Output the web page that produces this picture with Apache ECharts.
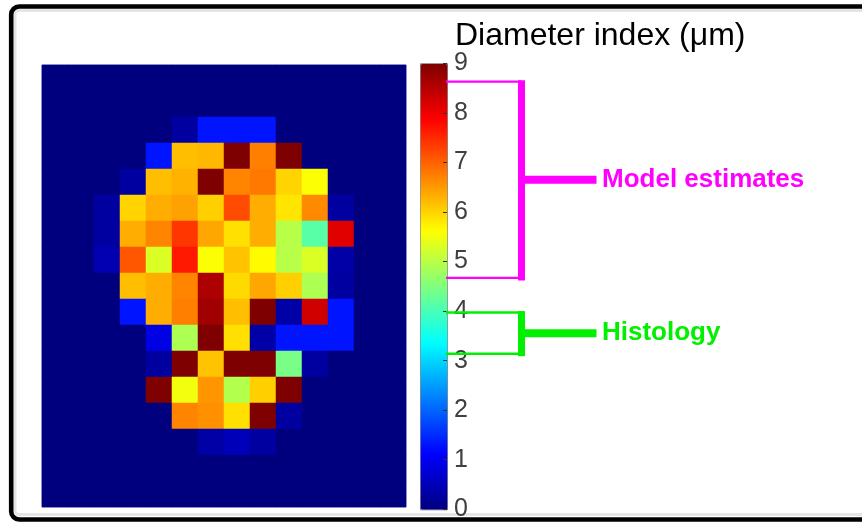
<!DOCTYPE html>
<html>
<head>
<meta charset="utf-8">
<script src="https://cdn.jsdelivr.net/npm/echarts@6/dist/echarts.min.js"></script>
<style>
html,body{margin:0;padding:0;background:#fff;}
#chart{width:862px;height:522px;}
</style>
</head>
<body>
<div id="chart"></div>
<script>
// ---- data (diameter index, µm) : 17 rows (top to bottom) x 14 columns ----
const columns = [0,1,2,3,4,5,6,7,8,9,10,11,12,13];
const rows = [0,1,2,3,4,5,6,7,8,9,10,11,12,13,14,15,16];
const row00 = [0,0,0,0,0,0,0,0,0,0,0,0,0,0];
const row01 = [0,0,0,0,0,0,0,0,0,0,0,0,0,0];
const row02 = [0,0,0,0,0,0.3,1.3,1.3,1.3,0,0,0,0,0];
const row03 = [0,0,0,0,1.3,6.2,6.25,9,6.75,9,0,0,0,0];
const row04 = [0,0,0,0.3,6.2,6.3,9,6.7,6.8,6.0,5.6,0,0,0];
const row05 = [0,0,0.3,6.0,6.35,6.45,6.05,7.2,6.35,5.85,6.65,0.3,0,0];
const row06 = [0,0,0.3,6.35,6.7,7.4,6.4,5.9,6.35,5.0,4.15,8.15,0,0];
const row07 = [0,0,0.45,7.1,5.3,7.65,5.6,6.15,5.65,5.0,5.3,0.35,0,0];
const row08 = [0,0,0,6.2,6.35,6.7,8.6,5.95,6.4,6.05,4.9,0.3,0,0];
const row09 = [0,0,0,1.3,6.35,6.75,8.7,6.2,9,0.35,8.3,1.3,0,0];
const row10 = [0,0,0,0,0.9,4.9,9,5.9,0.35,1.3,1.3,1.3,0,0];
const row11 = [0,0,0,0,0.3,9,6.15,9,9,4.45,0.3,0,0,0];
const row12 = [0,0,0,0,9,5.5,6.55,4.95,6.05,9,0,0,0,0];
const row13 = [0,0,0,0,0,6.7,6.6,5.9,9,0.3,0,0,0,0];
const row14 = [0,0,0,0,0,0,0.35,0.5,0.3,0,0,0,0,0];
const row15 = [0,0,0,0,0,0,0,0,0,0,0,0,0,0];
const row16 = [0,0,0,0,0,0,0,0,0,0,0,0,0,0];
const gridRows = [row00,row01,row02,row03,row04,row05,row06,row07,row08,row09,row10,row11,row12,row13,row14,row15,row16];

const scaleMin = 0, scaleMax = 9;
const colorbarTitle = 'Diameter index (μm)';
const modelRange = [4.67, 8.63];      // "Model estimates" bracket on colour bar
const histologyRange = [3.14, 3.97];  // "Histology" bracket on colour bar
const modelLabel = 'Model estimates';
const histologyLabel = 'Histology';

// jet colormap stops (evenly spaced)
const jet = ['#00007f','#0000ff','#007fff','#00ffff','#7fff7f','#ffff00','#ff7f00','#ff0000','#7f0000'];

const heatData = [];
gridRows.forEach((r, ri) => r.forEach((v, ci) => heatData.push([ci, ri, v])));

const FONT = 'Liberation Sans, Arial, Helvetica, sans-serif';
const chart = echarts.init(document.getElementById('chart'), null, {renderer: 'canvas'});

const HM = {left: 42, top: 65, width: 364, height: 442};
const CB = {left: 420, top: 63.3, width: 27, height: 446};
const TICKLEN = 4;

chart.setOption({
  animation: false,
  backgroundColor: '#fff',
  grid: [
    {left: HM.left, top: HM.top, width: HM.width, height: HM.height, show: true, borderColor: '#7c80c4', borderWidth: 1, backgroundColor: '#00007f'},
    // narrow strip at the inner right edge of the colour bar: carries the ticks and labels
    {left: CB.left + CB.width - TICKLEN, top: CB.top, width: TICKLEN, height: CB.height, show: false, outerBoundsMode: 'none'}
  ],
  xAxis: [
    {type: 'category', gridIndex: 0, data: columns, show: false},
    {type: 'value', gridIndex: 1, min: 0, max: 1, show: false}
  ],
  yAxis: [
    {type: 'category', gridIndex: 0, data: rows, inverse: true, show: false},
    {type: 'value', gridIndex: 1, min: scaleMin, max: scaleMax, interval: 1, position: 'right', z: 20,
     axisLine: {show: false},
     axisTick: {show: false},
     axisLabel: {color: '#404040', fontSize: 25, fontFamily: FONT, margin: 7},
     splitLine: {show: true, lineStyle: {color: '#333', width: 1}}}
  ],
  visualMap: {
    type: 'continuous', min: scaleMin, max: scaleMax, dimension: 2, seriesIndex: 0,
    calculable: false, realtime: false, orient: 'vertical',
    left: CB.left, top: CB.top, itemWidth: CB.width, itemHeight: CB.height,
    padding: 0, text: null, inRange: {color: jet},
    borderColor: '#777', borderWidth: 1, hoverLink: false, z: 4
  },
  series: [{
    type: 'heatmap', xAxisIndex: 0, yAxisIndex: 0, data: heatData,
    itemStyle: {borderWidth: 0}, emphasis: {disabled: true}, progressive: 0
  }]
});

// annotations positioned from the colour-bar axis
const yOf = v => chart.convertToPixel({yAxisIndex: 1}, v);
const cbRight = CB.left + CB.width;
const barX = cbRight + 74.5;
function bracket(range, color, label, hw) {
  const yTop = yOf(range[1]), yBot = yOf(range[0]), yMid = (yTop + yBot) / 2;
  return [
    {type: 'line', shape: {x1: cbRight - 1, y1: yTop, x2: barX, y2: yTop}, style: {stroke: color, lineWidth: hw}, z: 100},
    {type: 'line', shape: {x1: cbRight - 1, y1: yBot, x2: barX, y2: yBot}, style: {stroke: color, lineWidth: hw}, z: 100},
    {type: 'line', shape: {x1: barX, y1: yTop - 1.5, x2: barX, y2: yBot + 2.5}, style: {stroke: color, lineWidth: 7}, z: 100},
    {type: 'line', shape: {x1: barX, y1: yMid, x2: barX + 75, y2: yMid}, style: {stroke: color, lineWidth: 8}, z: 100},
    {type: 'text', x: barX + 80.5, y: yMid, style: {text: label, fill: color, font: 'bold 26px ' + FONT, textVerticalAlign: 'middle', textAlign: 'left'}, z: 100}
  ];
}

chart.setOption({
  graphic: [
    {type: 'rect', shape: {x: 11.2, y: 6.5, width: 900, height: 513, r: 8}, style: {fill: null, stroke: '#000', lineWidth: 4.6}, z: 200},
    {type: 'rect', shape: {x: 15, y: 10.5, width: 900, height: 504, r: 4}, style: {fill: null, stroke: 'rgba(0,0,0,0.10)', lineWidth: 3}, z: 199},
    {type: 'text', x: 455, y: 36, style: {text: colorbarTitle, fill: '#000', font: '32px ' + FONT, textVerticalAlign: 'middle', textAlign: 'left'}, z: 100}
  ].concat(bracket(modelRange, '#ff00ff', modelLabel, 2.2))
   .concat(bracket(histologyRange, '#00f000', histologyLabel, 2.5))
});
</script>
</body>
</html>
